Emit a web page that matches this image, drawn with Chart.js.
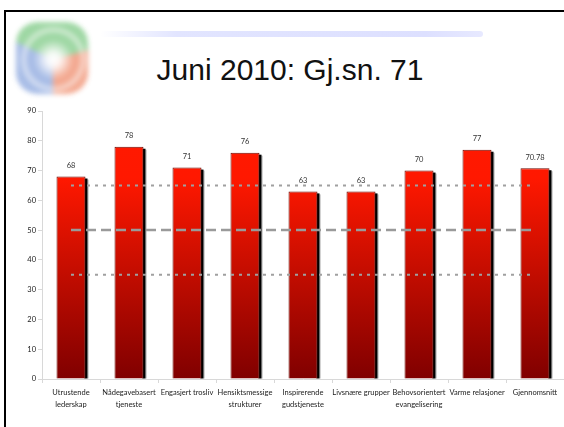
<!DOCTYPE html>
<html>
<head>
<meta charset="utf-8">
<script src="https://cdn.jsdelivr.net/npm/chart.js@4/dist/chart.umd.min.js"></script>
<style>
  html, body { margin: 0; padding: 0; background: #fff; }
  #slide { position: relative; width: 564px; height: 427px; overflow: hidden; background: #fff; }
  #frameTop { position: absolute; left: 4px; top: 10px; width: 560px; height: 2px; background: #000; }
  #frameLeft { position: absolute; left: 4px; top: 10px; width: 2px; height: 417px; background: #000; }
  #logo {
    position: absolute; left: 16px; top: 22px; width: 72px; height: 72px;
    border-radius: 30%;
    background:
      radial-gradient(circle at 52% 52%, rgba(255,255,255,1) 0%, rgba(255,255,255,0.9) 12%, rgba(255,255,255,0) 38%),
      radial-gradient(circle at 52% 52%, rgba(255,255,255,0) 48%, rgba(255,255,255,0.6) 56%, rgba(255,255,255,0) 64%),
      conic-gradient(from 0deg at 52% 52%, #94d39a 0deg, #94d39a 75deg, #f2a085 75deg, #f2a085 180deg, #9fb6e4 180deg, #9fb6e4 295deg, #94d39a 295deg);
    filter: blur(2.5px);
    opacity: 0.9;
  }
  #ribbon {
    position: absolute; left: 100px; top: 31px; width: 383px; height: 6px; border-radius: 3px;
    background: linear-gradient(to right, rgba(225,228,255,0) 0%, #e2e5ff 20%, #dde0ff 85%, rgba(215,218,255,0.6) 100%);
  }
  #title {
    position: absolute; left: 100px; width: 380px; top: 53px; text-align: center;
    font-family: "Liberation Sans", Arial, sans-serif; font-size: 30px; color: #111;
  }
  #chartBox { position: absolute; left: 0; top: 100px; width: 564px; height: 327px; }
</style>
</head>
<body>
<div id="slide">
  <div id="frameTop"></div>
  <div id="frameLeft"></div>
  <div id="logo"></div>
  <div id="ribbon"></div>
  <div id="title">Juni 2010: Gj.sn. 71</div>
  <div id="chartBox"><canvas id="chart"></canvas></div>
</div>
<script>
const categories = [
  ["Utrustende", "lederskap"],
  ["Nådegavebasert", "tjeneste"],
  "Engasjert trosliv",
  ["Hensiktsmessige", "strukturer"],
  ["Inspirerende", "gudstjeneste"],
  "Livsnære grupper",
  ["Behovsorientert", "evangelisering"],
  "Varme relasjoner",
  "Gjennomsnitt"
];
const scores = [68, 78, 71, 76, 63, 63, 70, 77, 70.78];
const scoreLabels = ["68", "78", "71", "76", "63", "63", "70", "77", "70.78"];
const upperLine = [65, 65, 65, 65, 65, 65, 65, 65, 65];
const middleLine = [50, 50, 50, 50, 50, 50, 50, 50, 50];
const lowerLine = [35, 35, 35, 35, 35, 35, 35, 35, 35];
const yTicks = [0, 10, 20, 30, 40, 50, 60, 70, 80, 90];

const smallFont = { family: "Lato, 'DejaVu Sans', sans-serif", size: 7.5, lineHeight: 1.6 };

// black drop shadow on the right side of each bar
const barShadow = {
  id: "barShadow",
  beforeDatasetDraw(chart, args) {
    if (args.meta.type !== "bar") return;
    const ctx = chart.ctx;
    ctx.save();
    args.meta.data.forEach(bar => {
      const p = bar.getProps(["x", "y", "base", "width"], true);
      ctx.fillStyle = "#000";
      ctx.fillRect(p.x + p.width / 2 - 1, p.y + 2, 3, p.base - p.y - 2);
      ctx.fillStyle = "rgba(0,0,0,0.35)";
      ctx.fillRect(p.x + p.width / 2 + 2, p.y + 3, 1, p.base - p.y - 3);
    });
    ctx.restore();
  }
};

// value above each bar
const valueLabels = {
  id: "valueLabels",
  afterDatasetsDraw(chart) {
    const meta = chart.getDatasetMeta(chart.data.datasets.findIndex(d => d.type === "bar"));
    const ctx = chart.ctx;
    ctx.save();
    ctx.font = "7.5px Lato, 'DejaVu Sans', sans-serif";
    ctx.fillStyle = "#333";
    ctx.textAlign = "center";
    ctx.textBaseline = "bottom";
    meta.data.forEach((bar, i) => {
      ctx.fillText(scoreLabels[i], bar.x, bar.y - 7);
    });
    ctx.restore();
  }
};

function barFill(context) {
  const area = context.chart.chartArea;
  if (!area) return "#e01000";
  const g = context.chart.ctx.createLinearGradient(0, area.top, 0, area.bottom);
  g.addColorStop(0, "#ff1a00");
  g.addColorStop(0.25, "#ff1800");
  g.addColorStop(1, "#800000");
  return g;
}

new Chart(document.getElementById("chart"), {
  data: {
    labels: categories,
    datasets: [
      {
        type: "line", data: upperLine, order: 0,
        borderColor: "#a0a0a0", borderWidth: 2, borderDash: [3, 5],
        pointRadius: 0, fill: false
      },
      {
        type: "line", data: middleLine, order: 0,
        borderColor: "#9a9a9a", borderWidth: 2.5, borderDash: [10, 5],
        pointRadius: 0, fill: false
      },
      {
        type: "line", data: lowerLine, order: 0,
        borderColor: "#a0a0a0", borderWidth: 2, borderDash: [3, 5],
        pointRadius: 0, fill: false
      },
      {
        type: "bar", data: scores, order: 1,
        backgroundColor: barFill,
        borderColor: "#6e0800", borderWidth: 1,
        categoryPercentage: 1, barPercentage: 0.5
      }
    ]
  },
  options: {
    responsive: true,
    maintainAspectRatio: false,
    animation: false,
    layout: { padding: { top: 11, right: 0, left: 0, bottom: 0 } },
    plugins: { legend: { display: false }, tooltip: { enabled: false } },
    scales: {
      x: {
        offset: true,
        grid: { offset: true, drawOnChartArea: false, tickLength: 4, color: "#d8d8d8" },
        border: { color: "#d8d8d8" },
        ticks: { color: "#222", font: smallFont, padding: 4, maxRotation: 0, autoSkip: false },
        afterFit(scale) { scale.height = 48; }
      },
      y: {
        min: 0, max: 90,
        afterBuildTicks(scale) { scale.ticks = yTicks.map(v => ({ value: v })); },
        grid: { drawOnChartArea: false, tickLength: 4, color: "#d8d8d8" },
        border: { color: "#d8d8d8" },
        ticks: { color: "#222", font: { family: smallFont.family, size: 7.5 }, padding: 2 },
        afterFit(scale) { scale.width = 42; }
      }
    }
  },
  plugins: [barShadow, valueLabels]
});
</script>
</body>
</html>
